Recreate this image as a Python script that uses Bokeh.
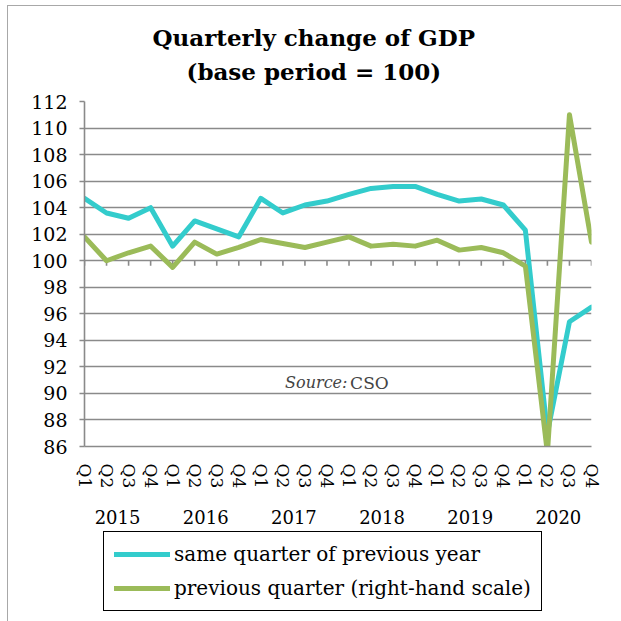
from bokeh.plotting import figure
from bokeh.layouts import column
from bokeh.models import (LinearAxis, FixedTicker, Range1d, Legend, LegendItem,
                          Label, Title)
from bokeh.embed import file_html
from bokeh.resources import INLINE

years = ["2015", "2016", "2017", "2018", "2019", "2020"]
quarters = ["Q1", "Q2", "Q3", "Q4"]
same_quarter_prev_year = [104.7, 103.6, 103.2, 104.0,
                          101.1, 103.0, 102.4, 101.8,
                          104.7, 103.6, 104.2, 104.5,
                          105.0, 105.45, 105.6, 105.6,
                          105.0, 104.5, 104.65, 104.2,
                          102.3, 87.0, 95.4, 96.5]
prev_quarter = [101.8, 100.0, 100.6, 101.1,
                99.5, 101.4, 100.5, 101.0,
                101.6, 101.3, 101.0, 101.4,
                101.8, 101.1, 101.25, 101.1,
                101.55, 100.8, 101.0, 100.6,
                99.6, 85.5, 111.0, 101.4]
y_ticks = list(range(86, 113, 2))
series_names = ["same quarter of previous year", "previous quarter (right-hand scale)"]

FONT = "DejaVu Serif"
GRID = "#8a8a8a"
CYAN = "#33CCCC"
GREEN = "#9BBB59"

n = len(same_quarter_prev_year)
x = list(range(n))
q_labels = [quarters[i % 4] for i in x]

p = figure(width=613, height=525, title=None,
           x_range=Range1d(0, n - 1), y_range=Range1d(y_ticks[0], y_ticks[-1]),
           output_backend="svg", toolbar_location=None,
           min_border_left=76, min_border_right=30,
           min_border_top=95, min_border_bottom=85)
p.outline_line_color = None
p.background_fill_color = "white"
p.border_fill_color = "white"

# grid
p.xgrid.grid_line_color = None
p.ygrid.ticker = FixedTicker(ticks=y_ticks)
p.ygrid.grid_line_color = GRID
p.ygrid.grid_line_width = 1.6

# y axis
p.yaxis.ticker = FixedTicker(ticks=y_ticks)
p.yaxis.axis_line_color = GRID
p.yaxis.axis_line_width = 1.6
p.yaxis.major_tick_line_color = GRID
p.yaxis.major_tick_line_width = 1.6
p.yaxis.major_tick_in = 0
p.yaxis.major_tick_out = 5
p.yaxis.minor_tick_line_color = None
p.yaxis.major_label_text_font = FONT
p.yaxis.major_label_text_font_size = "19px"
p.yaxis.major_label_text_color = "black"
p.yaxis.major_label_standoff = 12

# x axis (quarters)
xa = p.xaxis[0]
xa.ticker = FixedTicker(ticks=x)
xa.major_label_overrides = {i: q for i, q in zip(x, q_labels)}
xa.major_label_orientation = "vertical"
xa.major_label_text_font = FONT
xa.major_label_text_font_size = "17px"
xa.major_label_text_color = "black"
xa.major_label_standoff = 11
xa.major_tick_line_color = None
xa.minor_tick_line_color = None
xa.axis_line_color = GRID
xa.axis_line_width = 1.6

# year axis
year_pos = [4 * k + 1.5 for k in range(len(years))]
ya = LinearAxis(ticker=FixedTicker(ticks=year_pos),
                major_label_overrides={pos: yr for pos, yr in zip(year_pos, years)})
ya.axis_line_color = None
ya.major_tick_line_color = None
ya.minor_tick_line_color = None
ya.major_label_text_font = FONT
ya.major_label_text_font_size = "18px"
ya.major_label_text_color = "black"
ya.major_label_standoff = 12
p.add_layout(ya, "below")

# tick marks on the 100 line (horizontal axis crosses at 100)
p.segment(x0=x, x1=x, y0=[100] * n, y1=[100 - 0.38] * n,
          line_color=GRID, line_width=1.6)

r1 = p.line(x, same_quarter_prev_year, line_color=CYAN, line_width=5,
            line_join="round", line_cap="round")
r2 = p.line(x, prev_quarter, line_color=GREEN, line_width=5,
            line_join="round", line_cap="round")

# source note
p.add_layout(Label(x=11.93, y=90.8, text="Source:", text_font=FONT,
                   text_font_style="italic", text_font_size="16px",
                   text_align="right", text_baseline="middle"))
p.add_layout(Label(x=12.05, y=90.8, text="CSO", text_font=FONT,
                   text_font_size="17px", text_align="left",
                   text_baseline="middle"))

# titles
p.add_layout(Title(text="(base period = 100)", align="left", text_font=FONT,
                   text_font_size="23px", text_font_style="bold",
                   text_color="black", offset=102, standoff=34), "above")
p.add_layout(Title(text="Quarterly change of GDP", align="left", text_font=FONT,
                   text_font_size="23px", text_font_style="bold",
                   text_color="black", offset=68, standoff=-24), "above")

# legend panel (separate strip below the chart); its lines lie outside its ranges
lp = figure(width=613, height=90, x_range=Range1d(-2, -1), y_range=Range1d(-2, -1),
            output_backend="svg", toolbar_location=None,
            x_axis_location=None, y_axis_location=None, min_border=0)
lp.grid.visible = False
lp.outline_line_color = None
lr1 = lp.line(x, same_quarter_prev_year, line_color=CYAN, line_width=5, line_cap="round")
lr2 = lp.line(x, prev_quarter, line_color=GREEN, line_width=5, line_cap="round")

legend = Legend(items=[LegendItem(label=series_names[0], renderers=[lr1]),
                       LegendItem(label=series_names[1], renderers=[lr2])],
                location=(19, 10))
legend.border_line_color = "black"
legend.border_line_alpha = 1.0
legend.border_line_width = 1.5
legend.background_fill_color = "white"
legend.padding = 10
legend.spacing = 10
legend.glyph_width = 56
legend.glyph_height = 24
legend.label_height = 24
legend.label_standoff = 4
legend.label_text_font = FONT
legend.label_text_font_size = "20px"
legend.label_text_color = "black"
legend.margin = 0
lp.add_layout(legend)

layout = column(p, lp, spacing=0,
                styles={"margin-left": "7px", "margin-top": "5px",
                        "border-left": "1px solid #a8a8a8",
                        "border-top": "1px solid #a8a8a8"})

open("out.html", "w").write(file_html(layout, INLINE))
